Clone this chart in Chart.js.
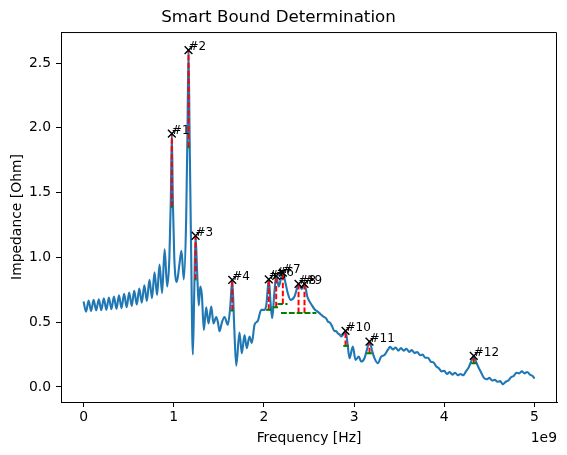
<!DOCTYPE html>
<html><head><meta charset="utf-8">
<script src="https://cdn.jsdelivr.net/npm/chart.js@4.4.0/dist/chart.umd.min.js"></script>
<style>html,body{margin:0;padding:0;background:#fff;}</style>
</head><body>
<canvas id="c" width="567" height="455"></canvas>
<script>
// Frequency in units of 1e9 Hz (axis offset "1e9")
const freqGHz = [
0.000,0.028,0.056,0.084,0.112,0.140,0.169,0.197,0.225,0.253,0.281,0.309,0.337,0.365,0.393,0.421,0.450,0.478,0.506,0.534,
0.562,0.590,0.618,0.646,0.674,0.702,0.731,0.759,0.787,0.815,0.843,0.871,0.899,0.927,0.952,0.968,0.979,0.990,1.006,1.034,
1.062,1.086,1.112,1.138,1.153,1.164,1.175,1.192,1.212,1.228,1.242,1.260,1.278,1.294,1.312,1.334,1.360,1.386,1.416,1.441,
1.471,1.490,1.508,1.535,1.563,1.600,1.627,1.649,1.670,1.693,1.729,1.755,1.785,1.810,1.840,1.866,1.896,1.932,1.970,2.007,
2.028,2.054,2.075,2.092,2.115,2.136,2.165,2.190,2.210,2.240,2.265,2.295,2.339,2.362,2.384,2.420,2.450,2.480,2.506,2.533,
2.561,2.590,2.616,2.640,2.660,2.690,2.709,2.735,2.755,2.783,2.800,2.819,2.840,2.857,2.880,2.905,2.928,2.949,2.986,3.016,
3.052,3.079,3.115,3.143,3.171,3.200,3.226,3.263,3.300,3.337,3.374,3.400,3.430,3.460,3.490,3.520,3.550,3.580,3.610,3.640,
3.670,3.700,3.730,3.760,3.790,3.820,3.850,3.880,3.910,3.940,3.970,4.000,4.030,4.060,4.090,4.120,4.150,4.180,4.210,4.240,
4.270,4.300,4.327,4.350,4.380,4.410,4.440,4.470,4.500,4.530,4.560,4.590,4.620,4.650,4.680,4.710,4.740,4.770,4.800,4.830,
4.860,4.890,4.920,4.950,4.980,5.000];
const impedanceOhm = [
0.660,0.580,0.667,0.587,0.672,0.590,0.677,0.592,0.685,0.595,0.690,0.600,0.698,0.603,0.708,0.608,0.719,0.615,0.729,0.626,
0.742,0.636,0.760,0.651,0.785,0.664,0.827,0.685,0.885,0.711,0.945,0.724,1.062,0.775,1.000,1.450,1.955,1.450,1.000,0.810,
0.940,1.050,0.830,1.300,2.000,2.600,2.000,1.100,0.250,0.750,1.167,0.880,0.630,0.775,0.710,0.440,0.615,0.490,0.620,0.490,
0.540,0.500,0.430,0.500,0.540,0.480,0.620,0.827,0.480,0.165,0.420,0.260,0.400,0.300,0.390,0.340,0.480,0.510,0.595,0.595,
0.640,0.830,0.640,0.530,0.720,0.857,0.775,0.840,0.883,0.800,0.723,0.672,0.698,0.750,0.796,0.755,0.796,0.700,0.660,0.630,
0.600,0.585,0.570,0.555,0.543,0.530,0.505,0.495,0.470,0.430,0.432,0.414,0.405,0.390,0.405,0.433,0.330,0.222,0.311,0.209,
0.234,0.196,0.222,0.290,0.350,0.280,0.222,0.183,0.234,0.247,0.286,0.310,0.290,0.305,0.280,0.300,0.280,0.295,0.270,0.285,
0.262,0.270,0.245,0.250,0.225,0.225,0.195,0.190,0.160,0.145,0.120,0.125,0.100,0.115,0.095,0.110,0.090,0.100,0.090,0.120,
0.150,0.200,0.240,0.200,0.150,0.110,0.070,0.060,0.070,0.050,0.055,0.040,0.045,0.020,0.040,0.050,0.075,0.085,0.110,0.105,
0.120,0.105,0.115,0.095,0.085,0.065];

const peakLabels = ['#1','#2','#3','#4','#5','#6','#7','#8','#9','#10','#11','#12'];
const peakFreq   = [0.979,1.164,1.242,1.649,2.054,2.136,2.210,2.384,2.450,2.905,3.171,4.327];
const peakImp    = [1.955,2.600,1.167,0.827,0.830,0.857,0.883,0.796,0.796,0.433,0.350,0.240];
const boundLevel = [1.39,1.85,0.83,0.59,0.595,0.615,0.64,0.57,0.57,0.317,0.26,0.183];
const boundLeft  = [0.968,1.153,1.232,1.635,2.025,2.095,2.150,2.190,2.190,2.880,3.137,4.298];
const boundRight = [0.990,1.175,1.252,1.663,2.080,2.173,2.262,2.580,2.580,2.940,3.204,4.364];

const xTicks = [0,1,2,3,4,5];
const yTicks = [0.0,0.5,1.0,1.5,2.0,2.5];

const FONT = 'DejaVu Sans';
const curve = freqGHz.map((f,i)=>({x:f,y:impedanceOhm[i]}));

const datasets = [{
  label:'Impedance', data:curve, showLine:true, borderColor:'#1f77b4', borderWidth:2.1,
  pointRadius:0, cubicInterpolationMode:'monotone', order:4
}];
peakFreq.forEach((f,i)=>{
  datasets.push({label:'bound '+peakLabels[i], data:[{x:f,y:boundLevel[i]},{x:f,y:peakImp[i]}],
    showLine:true, borderColor:'#ff0000', borderWidth:2, borderDash:[5.5,2.4], pointRadius:0, order:3});
});
peakFreq.forEach((f,i)=>{
  datasets.push({label:'width '+peakLabels[i], data:[{x:boundLeft[i],y:boundLevel[i]},{x:boundRight[i],y:boundLevel[i]}],
    showLine:true, borderColor:'#008000', borderWidth:2, borderDash:[5.5,2.4], pointRadius:0, order:2});
});
datasets.push({label:'peaks', data:peakFreq.map((f,i)=>({x:f,y:peakImp[i]})), showLine:false,
  pointStyle:'crossRot', pointRadius:5.5, borderColor:'#000', backgroundColor:'#000', borderWidth:1.4, order:1});

const extras = {
  id:'extras',
  afterDatasetsDraw(chart){
    const ctx = chart.ctx, xs = chart.scales.x, ys = chart.scales.y;
    ctx.save();
    ctx.fillStyle = '#000';
    ctx.font = '12px "' + FONT + '"';
    ctx.textAlign = 'left'; ctx.textBaseline = 'alphabetic';
    peakLabels.forEach((t,i)=>{
      ctx.fillText(t, xs.getPixelForValue(peakFreq[i]), ys.getPixelForValue(peakImp[i]));
    });
    ctx.restore();
  },
  afterDraw(chart){
    const ctx = chart.ctx, a = chart.chartArea;
    ctx.save();
    ctx.strokeStyle = '#000'; ctx.lineWidth = 1;
    ctx.beginPath();
    ctx.moveTo(a.left, a.top+0.5); ctx.lineTo(a.right-0.5, a.top+0.5); ctx.lineTo(a.right-0.5, a.bottom);
    ctx.stroke();
    ctx.fillStyle = '#000';
    ctx.font = '13.9px "' + FONT + '"';
    ctx.textAlign = 'right'; ctx.textBaseline = 'middle';
    ctx.fillText('1e9', a.right, 438);
    ctx.restore();
  }
};

new Chart(document.getElementById('c'), {
  type:'scatter',
  data:{datasets},
  plugins:[extras],
  options:{
    responsive:false, animation:false, devicePixelRatio:1,
    layout:{padding:{left:0,right:10,top:0,bottom:0}},
    plugins:{
      legend:{display:false}, tooltip:{enabled:false},
      title:{display:true, text:'Smart Bound Determination', color:'#000',
        font:{family:FONT,size:16.7,weight:'normal'}, padding:{top:8,bottom:4}}
    },
    scales:{
      x:{type:'linear', min:-0.25, max:5.25,
        afterBuildTicks:s=>{s.ticks = xTicks.map(v=>({value:v}));},
        afterFit:s=>{s.height = 53;},
        ticks:{color:'#000', font:{family:FONT,size:13.9}, padding:2, callback:v=>String(v), maxRotation:0, autoSkip:false},
        grid:{drawOnChartArea:false, drawTicks:true, tickLength:5, tickColor:'#000', tickWidth:1},
        border:{display:true, color:'#000', width:1},
        title:{display:true, text:'Frequency [Hz]', color:'#000', font:{family:FONT,size:13.9}, padding:{top:0,bottom:8}}
      },
      y:{type:'linear', min:-0.116, max:2.739,
        afterBuildTicks:s=>{s.ticks = yTicks.map(v=>({value:v}));},
        afterFit:s=>{s.width = 61;},
        ticks:{color:'#000', font:{family:FONT,size:13.9}, padding:5, callback:v=>Number(v).toFixed(1), autoSkip:false},
        grid:{drawOnChartArea:false, drawTicks:true, tickLength:5, tickColor:'#000', tickWidth:1},
        border:{display:true, color:'#000', width:1},
        title:{display:true, text:'Impedance [Ohm]', color:'#000', font:{family:FONT,size:13.9}, padding:{top:9,bottom:0}}
      }
    }
  }
});
</script>
</body></html>
